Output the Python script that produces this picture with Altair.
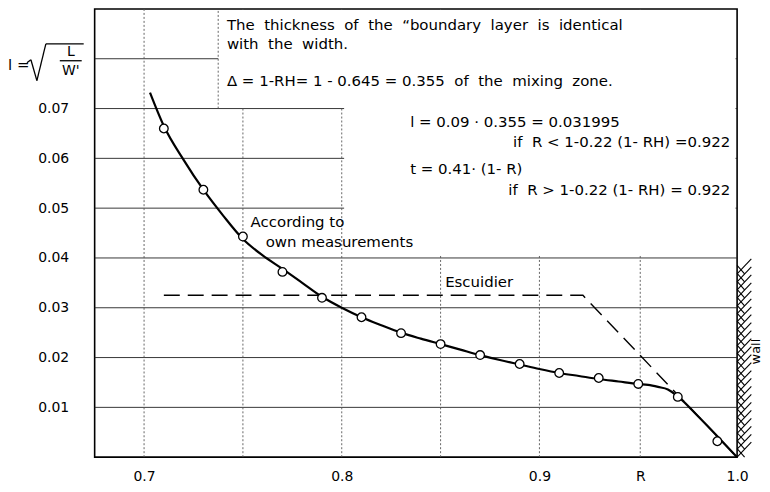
import altair as alt
import pandas as pd

# ---------------- data ----------------
meas_r = [0.71, 0.73, 0.75, 0.77, 0.79, 0.81, 0.83, 0.85, 0.87, 0.89, 0.91, 0.93, 0.95, 0.97, 0.99]
meas_l = [0.0660, 0.0537, 0.0443, 0.0372, 0.0320, 0.0281, 0.0249, 0.0227, 0.0205, 0.0187,
          0.0169, 0.0159, 0.0147, 0.0121, 0.0032]

curve_r = [0.703, 0.71, 0.72, 0.73, 0.74, 0.75, 0.76, 0.77, 0.78, 0.79, 0.80, 0.81, 0.82, 0.83,
           0.84, 0.85, 0.86, 0.87, 0.88, 0.89, 0.90, 0.91, 0.92, 0.93, 0.94, 0.95, 0.955, 0.96,
           0.965, 0.97, 0.98, 0.99, 1.0]
curve_l = [0.0732, 0.0665, 0.0597, 0.0537, 0.0485, 0.0438, 0.0405, 0.0378, 0.0350, 0.0322,
           0.0300, 0.0281, 0.0265, 0.0250, 0.0238, 0.0227, 0.0216, 0.0205, 0.0195, 0.0186,
           0.0177, 0.0169, 0.0163, 0.0157, 0.0152, 0.0147, 0.0145, 0.0141, 0.0136, 0.0122,
           0.0083, 0.0042, 0.0]

escu_r = [0.71, 0.922, 1.0]
escu_l = [0.0325, 0.0325, 0.0]

x_ticks = [0.7, 0.8, 0.9, 0.951, 1.0]
y_ticks = [0.01, 0.02, 0.03, 0.04, 0.05, 0.06, 0.07]
h_grid = [0.01, 0.02, 0.03, 0.04, 0.05, 0.06, 0.07, 0.08]
v_grid = [0.7, 0.75, 0.8, 0.85, 0.9, 0.951]

S = "\u00a0 "  # wide word gap (non-collapsing)
notes_left = [
    S.join(["The", "thickness", "of", "the", "\u201cboundary", "layer", "is", "identical"]),
    S.join(["with", "the", "width."]),
    "\u0394 = 1-RH= 1 - 0.645 = 0.355" + S + S.join(["of", "the", "mixing", "zone."]),
    "l = 0.09 \u00b7 0.355 = 0.031995",
    "t =  0.41\u00b7 (1- R)",
    "According to",
    "own  measurements",
    "Escuidier",
]
notes_left_x = [0.7419, 0.7419, 0.7419, 0.8346, 0.8346, 0.7539, 0.7615, 0.8523]
notes_left_y = [0.0868, 0.0830, 0.0756, 0.0672, 0.0578, 0.0472, 0.0432, 0.0352]

notes_right = ["if\u00a0 R < 1-0.22 (1- RH) =0.922", "if\u00a0 R > 1-0.22 (1- RH) = 0.922"]
notes_right_x = [0.9965, 0.9965]
notes_right_y = [0.0632, 0.0536]

FONT = "DejaVu Sans"
XD = [0.675, 1.0]
YD = [0.0, 0.09]

xs = alt.Scale(domain=XD, nice=False, zero=False)
ys = alt.Scale(domain=YD, nice=False, zero=False)

one = pd.DataFrame({"a": [0]})

# ---------------- grid ----------------
hgrid = alt.Chart(pd.DataFrame({"y": h_grid})).mark_rule(color="#222", strokeWidth=0.9).encode(
    y=alt.Y("y:Q", scale=ys)
)
vgrid = alt.Chart(pd.DataFrame({"x": v_grid})).mark_rule(
    color="#555", strokeWidth=0.9, strokeDash=[2, 2]
).encode(x=alt.X("x:Q", scale=xs))

# white boxes behind the annotation text
boxes = alt.Chart(pd.DataFrame({
    "x": [0.7375, 0.8012], "x2": [0.9992, 0.9992],
    "y": [0.0703, 0.0405], "y2": [0.0898, 0.0703],
})).mark_rect(color="white").encode(
    x=alt.X("x:Q", scale=xs), x2="x2", y=alt.Y("y:Q", scale=ys), y2="y2"
)
box_edge = alt.Chart(pd.DataFrame({"x": [0.7375], "y": [0.07], "y2": [0.09]})).mark_rule(
    color="#555", strokeWidth=0.9, strokeDash=[2, 2]
).encode(x=alt.X("x:Q", scale=xs), y=alt.Y("y:Q", scale=ys), y2="y2")

# ---------------- data marks ----------------
escu = alt.Chart(pd.DataFrame({"r": escu_r, "l": escu_l, "o": [0, 1, 2]})).mark_line(
    color="black", strokeWidth=1.4, strokeDash=[16, 8]
).encode(x=alt.X("r:Q", scale=xs), y=alt.Y("l:Q", scale=ys), order="o:Q")

curve = alt.Chart(pd.DataFrame({"r": curve_r, "l": curve_l})).mark_line(
    color="black", strokeWidth=2.2, interpolate="monotone"
).encode(x=alt.X("r:Q", scale=xs), y=alt.Y("l:Q", scale=ys))

pts = alt.Chart(pd.DataFrame({"r": meas_r, "l": meas_l})).mark_point(
    shape="circle", filled=True, fill="white", stroke="black", strokeWidth=1.3, size=75, opacity=1
).encode(x=alt.X("r:Q", scale=xs), y=alt.Y("l:Q", scale=ys))

# ---------------- annotations ----------------
tl = alt.Chart(pd.DataFrame({"t": notes_left, "x": notes_left_x, "y": notes_left_y})).mark_text(
    align="left", baseline="middle", font=FONT, fontSize=15, color="black"
).encode(x=alt.X("x:Q", scale=xs), y=alt.Y("y:Q", scale=ys), text="t:N")

tr = alt.Chart(pd.DataFrame({"t": notes_right, "x": notes_right_x, "y": notes_right_y})).mark_text(
    align="right", baseline="middle", font=FONT, fontSize=15, color="black"
).encode(x=alt.X("x:Q", scale=xs), y=alt.Y("y:Q", scale=ys), text="t:N")

# wall hatching (decoration, in data units right of R = 1.0)
hx, hx2, hy, hy2 = [], [], [], []
k = 0
while k * 0.0016 <= 0.0372:
    y0 = k * 0.0016
    hx.append(1.0); hx2.append(1.0072); hy.append(y0); hy2.append(min(y0 + 0.0030, 0.0404))
    hx.append(1.0); hx2.append(1.0038); hy.append(y0 + 0.0017); hy2.append(y0)
    k += 1
hatch = alt.Chart(pd.DataFrame({"x": hx, "x2": hx2, "y": hy, "y2": hy2})).mark_rule(
    color="black", strokeWidth=1.1, clip=False
).encode(x=alt.X("x:Q", scale=xs), x2="x2", y=alt.Y("y:Q", scale=ys), y2="y2")

wall = alt.Chart(pd.DataFrame({"t": ["wall"], "x": [1.0098], "y": [0.0212]})).mark_text(
    angle=270, align="center", baseline="middle", font=FONT, fontSize=13, color="black", clip=False
).encode(x=alt.X("x:Q", scale=xs), y=alt.Y("y:Q", scale=ys), text="t:N")

# y-axis quantity label  l = sqrt(L / W')  (pixel offsets relative to the plot origin)
def seg(x1, y1, x2, y2, w=1.3):
    return alt.Chart(one).mark_rule(color="black", strokeWidth=w).encode(
        x=alt.value(x1), x2=alt.value(x2), y=alt.value(y1), y2=alt.value(y2)
    )

def txt(s, x, y, size=15, align="left"):
    return alt.Chart(one).mark_text(
        align=align, baseline="middle", font=FONT, fontSize=size, color="black"
    ).encode(x=alt.value(x), y=alt.value(y), text=alt.value(s))

ox, oy = 95, 8
formula = [
    txt("l =", 8 - ox, 64 - oy),
    seg(27 - ox, 62 - oy, 31 - ox, 59 - oy),
    seg(31 - ox, 59 - oy, 37 - ox, 80 - oy),
    seg(37 - ox, 80 - oy, 46 - ox, 43 - oy),
    seg(46 - ox, 43 - oy, 84 - ox, 43 - oy),
    seg(60 - ox, 60 - oy, 82 - ox, 60 - oy),
    txt("L", 71 - ox, 51 - oy, 14, "center"),
    txt("W'", 71 - ox, 70 - oy, 14, "center"),
]

# axes carrier
axes = alt.Chart(pd.DataFrame({"r": [0.8], "l": [0.0]})).mark_point(opacity=0).encode(
    x=alt.X("r:Q", scale=xs, title=None, axis=alt.Axis(
        values=x_ticks, grid=False, ticks=False, domain=False, labelFlush=False,
        labelOverlap=False, labelPadding=12, labelFont=FONT, labelFontSize=14,
        labelColor="black",
        labelExpr="datum.value > 0.94 && datum.value < 0.96 ? 'R' : format(datum.value, '.1f')")),
    y=alt.Y("l:Q", scale=ys, title=None, axis=alt.Axis(
        values=y_ticks, format=".2f", grid=False, ticks=False, domain=False,
        labelOverlap=False, labelPadding=26, labelFont=FONT, labelFontSize=14,
        labelColor="black")),
)

chart = alt.layer(
    axes, hgrid, vgrid, boxes, box_edge, escu, curve, pts, tl, tr, hatch, wall, *formula
).properties(
    width=645, height=450,
    autosize=alt.AutoSizeParams(type="none"),
    padding={"left": 87, "top": 0, "right": 25, "bottom": 27},
    background="white",
).configure_view(stroke="black", strokeWidth=1.6)

chart.save("out.html", embed_options={"renderer": "svg", "actions": False})
